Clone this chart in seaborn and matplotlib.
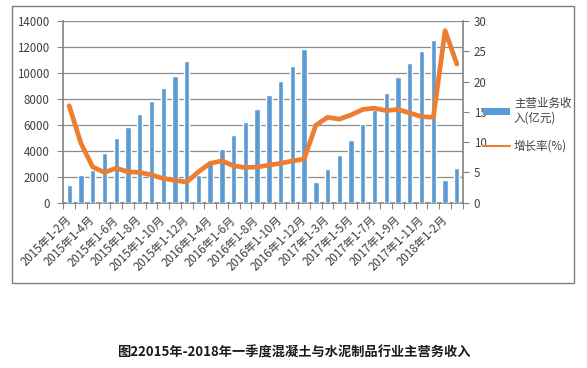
import numpy as np
import pandas as pd
import matplotlib
matplotlib.use("Agg")
import matplotlib.pyplot as plt
import seaborn as sns
from matplotlib.patches import Patch, Rectangle
from matplotlib.lines import Line2D
from matplotlib.ticker import MultipleLocator, FixedLocator

# ---- data ----
periods_2015 = ["2015年1-%d月" % m for m in range(2, 13)]
periods_2016 = ["2016年1-%d月" % m for m in range(3, 13)]
periods_2017 = ["2017年1-%d月" % m for m in range(2, 13)]
periods_2018 = ["2018年1-2月", "2018年1-3月"]
categories = periods_2015 + periods_2016 + periods_2017 + periods_2018

revenue_2015 = [1400, 2150, 2550, 3850, 4950, 5850, 6800, 7800, 8800, 9800, 10900]
revenue_2016 = [2150, 3050, 4150, 5250, 6250, 7250, 8300, 9400, 10550, 11850]
revenue_2017 = [1620, 2570, 3670, 4830, 6060, 7140, 8430, 9710, 10790, 11690, 12540]
revenue_2018 = [1750, 2700]
revenue = revenue_2015 + revenue_2016 + revenue_2017 + revenue_2018

growth_2015 = [16.0, 9.8, 5.9, 5.0, 5.7, 5.1, 5.0, 4.6, 4.0, 3.7, 3.4]
growth_2016 = [5.1, 6.5, 6.9, 6.1, 5.8, 5.9, 6.2, 6.5, 6.9, 7.2]
growth_2017 = [12.8, 14.1, 13.8, 14.5, 15.4, 15.6, 15.2, 15.4, 14.8, 14.2, 14.1]
growth_2018 = [28.4, 22.9]
growth = growth_2015 + growth_2016 + growth_2017 + growth_2018

label_bar = "主营业务收\n入(亿元)"
label_line = "增长率(%)"
caption = "图22015年-2018年一季度混凝土与水泥制品行业主营务收入"

df = pd.DataFrame({"period": categories, "revenue": revenue, "growth": growth})
df["pos"] = np.arange(len(df))

sns.set_theme(style="white")
plt.rcParams["font.family"] = ["Noto Sans CJK SC", "DejaVu Sans"]
plt.rcParams["axes.unicode_minus"] = False

W, H = 587, 368
fig = plt.figure(figsize=(W / 100, H / 100), dpi=100)

left, right, top, bottom = 63.3, 462.7, 21.0, 202.7
ax = fig.add_axes([left / W, 1 - bottom / H, (right - left) / W, (bottom - top) / H])

bar_color = "#5B9BD5"
line_color = "#ED7D31"
text_color = "#404040"
axis_color = "#868686"

ax.set_axisbelow(True)
ax.grid(axis="y", color="#8c8c8c", linewidth=0.9, zorder=0)
sns.barplot(data=df, x="period", y="revenue", order=categories, color=bar_color,
            width=0.45, saturation=1, ax=ax, zorder=3)
ax.set_xlim(-0.5, len(categories) - 0.5)
ax.set_ylim(0, 14000)
ax.yaxis.set_major_locator(MultipleLocator(2000))
ax.set_xlabel("")
ax.set_ylabel("")

for s in ["top", "right"]:
    ax.spines[s].set_visible(False)
ax.spines["left"].set_color(axis_color)
ax.spines["bottom"].set_color(axis_color)

# x tick labels every other category
major_pos = list(range(0, len(categories), 2))
ax.xaxis.set_major_locator(FixedLocator(major_pos))
ax.set_xticklabels([categories[i] for i in major_pos], rotation=45, ha="right",
                   rotation_mode="anchor", va="center", fontsize=8.3, color=text_color)
ax.tick_params(axis="x", which="major", length=0, pad=11)
ax.xaxis.set_minor_locator(FixedLocator(np.arange(-0.5, len(categories), 1.0)))
ax.tick_params(axis="x", which="minor", length=4, color=axis_color, width=0.8, direction="out",
               bottom=True)
ax.tick_params(axis="y", length=4, color=axis_color, width=0.8, direction="out", left=True,
               labelsize=8.3, labelcolor=text_color, pad=6)

ax2 = ax.twinx()
sns.lineplot(x=df["pos"], y=df["growth"], ax=ax2, color=line_color, linewidth=3.4,
             solid_joinstyle="round", solid_capstyle="round", zorder=3)
ax2.set_ylim(0, 30)
ax2.set_xlim(-0.5, len(categories) - 0.5)
ax2.yaxis.set_major_locator(MultipleLocator(5))
ax2.set_ylabel("")
ax2.set_xlabel("")
for s in ["top", "left", "bottom"]:
    ax2.spines[s].set_visible(False)
ax2.spines["right"].set_color(axis_color)
ax2.tick_params(axis="y", length=4, color=axis_color, width=0.8, direction="out", right=True,
                labelsize=8.3, labelcolor=text_color, pad=4)
ax2.grid(False)

handles = [Patch(facecolor=bar_color, edgecolor="none"),
           Line2D([0], [0], color=line_color, linewidth=1.5)]
fig.legend(handles, [label_bar, label_line], loc="upper left",
           bbox_to_anchor=(473 / W, 1 - 86 / H), frameon=False, fontsize=8.3,
           handlelength=2.3, handleheight=0.55, handletextpad=0.35, labelspacing=1.3,
           labelcolor=text_color)

# chart border
fig.add_artist(Rectangle((12 / W, 1 - 283 / H), (574 - 12) / W, (283 - 6) / H,
                         transform=fig.transFigure, fill=False, edgecolor="#7f7f7f",
                         linewidth=1.0))

fig.text(0.5, 1 - 352 / H, caption, ha="center", va="center", fontsize=9.5,
         fontweight="bold", color="#1a1a1a")

fig.savefig("out.png", dpi=100)
